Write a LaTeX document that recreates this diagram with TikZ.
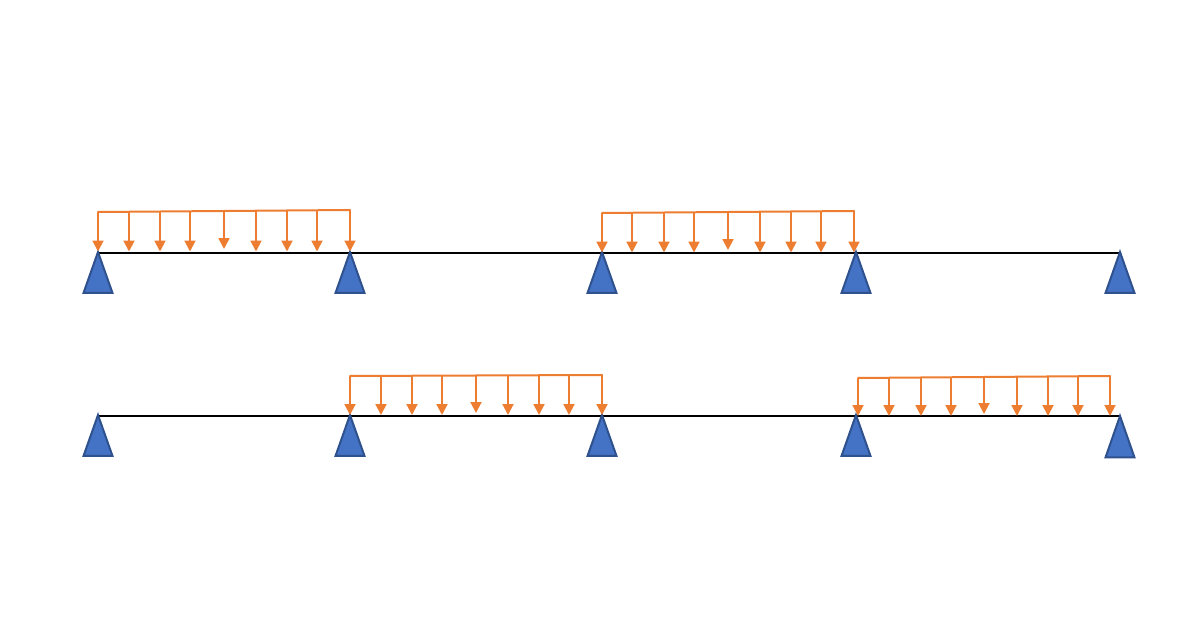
\documentclass[tikz,border=0pt]{standalone}
\usetikzlibrary{arrows.meta}
\definecolor{loadc}{HTML}{ED7D31}
\definecolor{supf}{HTML}{4472C4}
\definecolor{supd}{HTML}{2F528F}
\tikzset{
  beamline/.style={draw=black,line width=1pt},
  support/.style={draw=supd,fill=supf,line width=1pt,line join=miter},
  loadtop/.style={draw=loadc,line width=1pt,line cap=round},
  loadarrow/.style={draw=loadc,line width=1pt,-{Triangle[length=5.4pt,width=5.4pt]}}
}
% name, x, apex y, base y
\newcommand{\supportat}[4]{%
  \coordinate (#1) at (#2,#3+1.5);
  \path[support] (#2,#3) -- (#2+14.5,#4) -- (#2-14.5,#4) -- cycle;
}
% name, x1, top y1, x2, top y2, tip y, list of x/tip-offset
\newcommand{\loadblock}[7]{%
  \coordinate (#1L) at (#2,#3);
  \coordinate (#1R) at (#4,#5);
  \draw[loadtop] (#1L) -- (#1R);
  \foreach \px/\off [count=\i] in {#7} {
    \pgfmathsetmacro{\py}{#3+(#5-#3)*(\px-#2)/(#4-#2)}
    \coordinate (#1t\i) at (\px,\py);
    \coordinate (#1b\i) at (\px,#6-\off);
    \draw[loadarrow] (#1t\i) -- (#1b\i);
  }
}
\begin{document}
\begin{tikzpicture}[x=0.5pt,y=-0.5pt]
\useasboundingbox (0,0) rectangle (1200,630);
\fill[white] (0,0) rectangle (1200,630);
% top row
\coordinate (b1L) at (98,253.5);
\coordinate (b1R) at (1120,253.5);
\draw[beamline] (b1L) -- (b1R);
\supportat{a1}{98}{252}{293}
\supportat{a2}{350}{252}{293}
\supportat{a3}{602}{252}{293}
\supportat{a4}{856}{252}{293}
\supportat{a5}{1120}{252}{293}
% bottom row
\coordinate (b2L) at (98,416.5);
\coordinate (b2R) at (1120,416.5);
\draw[beamline] (b2L) -- (b2R);
\supportat{c1}{98}{415}{456}
\supportat{c2}{350}{415}{456}
\supportat{c3}{602}{415}{456}
\supportat{c4}{856}{415}{456}
\supportat{c5}{1120}{416}{457.5}
% loads
\loadblock{p}{98}{212}{350}{210}{251.5}{98/0,129/0,160/0,190/0,224/2.5,256/0,287/0,317/0,350/0}
\loadblock{q}{602}{213}{854}{211}{252.5}{602/0,632/0,664/0,694/0,728/2.5,760/0,791/0,821/0,854/0}
\loadblock{r}{350}{376}{602}{375}{415}{350/0,381/0,412/0,442/0,476/2,508/0,539/0,569/0,602/0}
\loadblock{s}{858}{378}{1110}{376}{416}{858/0,889/0,921/0,951/0,984/2,1017/0,1048/0,1078/0,1110/0}
\end{tikzpicture}
\end{document}
